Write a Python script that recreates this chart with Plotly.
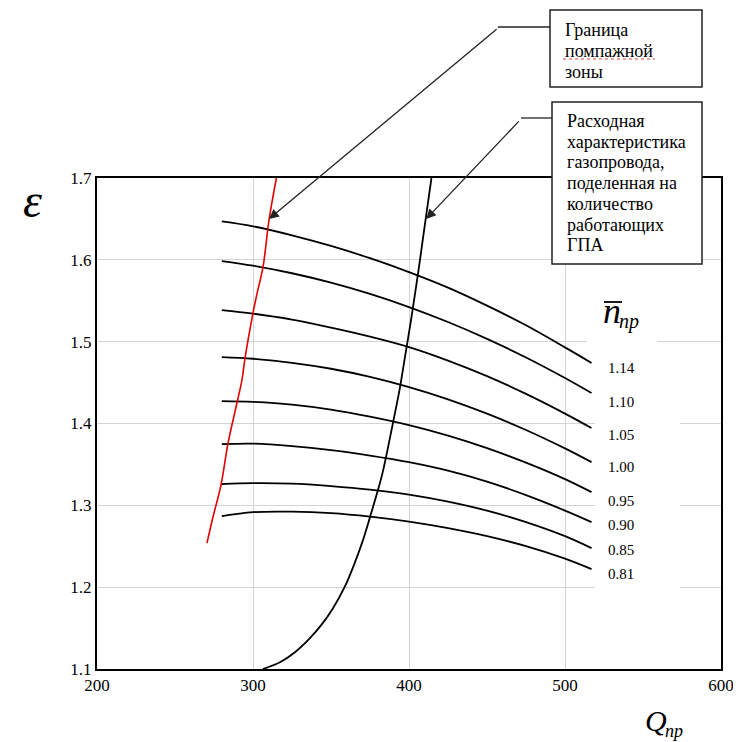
import plotly.graph_objects as go

# ---------------- data ----------------
Q = [280, 300, 325, 350, 375, 400, 425, 450, 475, 500, 517]
eps_114 = [1.647, 1.641, 1.630, 1.617, 1.602, 1.585, 1.566, 1.544, 1.520, 1.493, 1.474]
eps_110 = [1.5985, 1.5928, 1.5836, 1.5721, 1.5583, 1.5423, 1.5240, 1.5034, 1.4807, 1.4556, 1.4372]
eps_105 = [1.5386, 1.5343, 1.5270, 1.5172, 1.5062, 1.4934, 1.4769, 1.4579, 1.4362, 1.4121, 1.3944]
eps_100 = [1.4812, 1.4791, 1.4742, 1.4669, 1.4570, 1.4445, 1.4296, 1.4121, 1.3921, 1.3696, 1.3528]
eps_095 = [1.4274, 1.4264, 1.4231, 1.4170, 1.4084, 1.3980, 1.3852, 1.3699, 1.3522, 1.3320, 1.3161]
eps_090 = [1.3748, 1.3754, 1.3724, 1.3675, 1.3608, 1.3528, 1.3424, 1.3290, 1.3125, 1.2936, 1.2795]
eps_085 = [1.3259, 1.3271, 1.3265, 1.3235, 1.3192, 1.3131, 1.3045, 1.2935, 1.2795, 1.2623, 1.2477]
eps_081 = [1.2868, 1.2917, 1.2923, 1.2905, 1.2862, 1.2801, 1.2721, 1.2623, 1.2501, 1.2348, 1.2220]

speed_labels = ["1.14", "1.10", "1.05", "1.00", "0.95", "0.90", "0.85", "0.81"]
speed_label_eps = [1.4677, 1.4262, 1.3858, 1.3467, 1.3051, 1.2758, 1.2452, 1.2159]

surge_Q = [270.5, 274.4, 279.5, 284.0, 289.7, 292.9, 294.9, 300.0, 302.6, 306.4, 310.3, 315.0]
surge_eps = [1.254, 1.286, 1.325, 1.376, 1.425, 1.453, 1.480, 1.535, 1.559, 1.591, 1.649, 1.700]

pipe_Q = [306.4, 317.3, 326.9, 336.5, 344.2, 351.3, 359.0, 365.4, 370.5, 375.0, 380.1,
          383.0, 386.2, 389.7, 393.9, 397.1, 401.3, 406.1, 410.6, 414.4]
pipe_eps = [1.1000, 1.1083, 1.1205, 1.1377, 1.1548, 1.1743, 1.2012, 1.2306, 1.2575, 1.2856, 1.3186,
            1.3394, 1.3675, 1.4005, 1.4408, 1.4775, 1.5264, 1.5875, 1.6487, 1.7000]

x_ticks = [200, 300, 400, 500, 600]
y_ticks = [1.1, 1.2, 1.3, 1.4, 1.5, 1.6, 1.7]

box1_lines = ["Граница", "помпажной", "зоны"]
box2_lines = ["Расходная", "характеристика", "газопровода,", "поделенная на",
              "количество", "работающих", "ГПА"]

# ---------------- figure ----------------
OFF = 8                       # default body margin of the html page
W, H = 741 - OFF, 742 - OFF   # figure size
PL, PT, PR, PB = 97, 178, 721, 669   # plot area in page pixels
ML, MT = PL - OFF, PT - OFF
MR, MB = W - (PR - OFF), H - (PB - OFF)
PW, PH = PR - PL, PB - PT
SERIF = "Liberation Serif, Times New Roman, serif"


def fx(px):
    return (px - PL) / PW


def fy(py):
    return (PB - py) / PH


fig = go.Figure()
for eps in [eps_114, eps_110, eps_105, eps_100, eps_095, eps_090, eps_085, eps_081]:
    fig.add_trace(go.Scatter(x=Q, y=eps, mode="lines", line=dict(color="black", width=1.8, shape="spline"),
                             showlegend=False, hoverinfo="skip"))
fig.add_trace(go.Scatter(x=surge_Q, y=surge_eps, mode="lines",
                         line=dict(color="#e00000", width=1.6, shape="spline"),
                         showlegend=False, hoverinfo="skip"))
fig.add_trace(go.Scatter(x=pipe_Q, y=pipe_eps, mode="lines",
                         line=dict(color="black", width=1.8, shape="spline"),
                         showlegend=False, hoverinfo="skip"))

shapes = []
# white areas behind the right-hand labels
shapes.append(dict(type="rect", xref="paper", yref="paper", x0=fx(587), x1=fx(657), y0=fy(346), y1=fy(290),
                   fillcolor="white", line=dict(width=0), layer="above"))
shapes.append(dict(type="rect", xref="paper", yref="paper", x0=fx(595), x1=fx(680), y0=fy(592), y1=fy(355),
                   fillcolor="white", line=dict(width=0), layer="above"))
# callout boxes
shapes.append(dict(type="rect", xref="paper", yref="paper", x0=fx(550), x1=fx(702), y0=fy(87), y1=fy(10),
                   fillcolor="white", line=dict(color="#222", width=1.5), layer="above"))
shapes.append(dict(type="rect", xref="paper", yref="paper", x0=fx(552), x1=fx(702), y0=fy(264), y1=fy(102),
                   fillcolor="white", line=dict(color="#222", width=1.5), layer="above"))
# leader horizontal parts
shapes.append(dict(type="line", xref="paper", yref="paper", x0=fx(498), x1=fx(550), y0=fy(27), y1=fy(27),
                   line=dict(color="#222", width=1.3), layer="above"))
shapes.append(dict(type="line", xref="paper", yref="paper", x0=fx(521), x1=fx(552), y0=fy(118), y1=fy(118),
                   line=dict(color="#222", width=1.3), layer="above"))
# spell-check underline
shapes.append(dict(type="line", xref="paper", yref="paper", x0=fx(563), x1=fx(655), y0=fy(59), y1=fy(59),
                   line=dict(color="#e04040", width=1, dash="dot"), layer="above"))
# overline of n
shapes.append(dict(type="line", xref="paper", yref="paper", x0=fx(604), x1=fx(622), y0=fy(302), y1=fy(302),
                   line=dict(color="black", width=1.8), layer="above"))

ann = []
# arrows
ann.append(dict(x=310.3, y=1.650, xref="x", yref="y", ax=229, ay=-191, text="", showarrow=True,
                arrowhead=2, arrowsize=1.5, arrowwidth=1.3, arrowcolor="#222"))
ann.append(dict(x=411.0, y=1.650, xref="x", yref="y", ax=94, ay=-99, text="", showarrow=True,
                arrowhead=2, arrowsize=1.5, arrowwidth=1.3, arrowcolor="#222"))
# box texts
for i, t in enumerate(box1_lines):
    ann.append(dict(x=fx(563), y=fy(30 + 21 * i), xref="paper", yref="paper", text=t, showarrow=False,
                    xanchor="left", yanchor="middle", font=dict(family=SERIF, size=18, color="black")))
for i, t in enumerate(box2_lines):
    ann.append(dict(x=fx(565), y=fy(121 + 20.7 * i), xref="paper", yref="paper", text=t, showarrow=False,
                    xanchor="left", yanchor="middle", font=dict(family=SERIF, size=18, color="black")))
# speed labels
for t, e in zip(speed_labels, speed_label_eps):
    ann.append(dict(x=fx(621), y=e, xref="paper", yref="y", text=t, showarrow=False,
                    xanchor="center", yanchor="middle", font=dict(family=SERIF, size=15, color="black")))
# n_пр label
ann.append(dict(x=fx(612), y=fy(311), xref="paper", yref="paper", text="<i>n</i>", showarrow=False,
                xanchor="center", yanchor="middle", font=dict(family=SERIF, size=36, color="black")))
ann.append(dict(x=fx(629), y=fy(321), xref="paper", yref="paper", text="<i>пр</i>", showarrow=False,
                xanchor="center", yanchor="middle", font=dict(family=SERIF, size=20, color="black")))
# axis titles
ann.append(dict(x=fx(32), y=fy(200), xref="paper", yref="paper", text="<i>ε</i>", showarrow=False,
                xanchor="center", yanchor="middle", font=dict(family=SERIF, size=48, color="black")))
ann.append(dict(x=fx(656), y=fy(720), xref="paper", yref="paper", text="<i>Q</i>", showarrow=False,
                xanchor="center", yanchor="middle", font=dict(family=SERIF, size=30, color="black")))
ann.append(dict(x=fx(674), y=fy(731), xref="paper", yref="paper", text="<i>пр</i>", showarrow=False,
                xanchor="center", yanchor="middle", font=dict(family=SERIF, size=18, color="black")))

fig.update_layout(
    width=W, height=H,
    margin=dict(l=ML, r=MR, t=MT, b=MB, pad=0, autoexpand=False),
    paper_bgcolor="white", plot_bgcolor="white",
    shapes=shapes, annotations=ann,
    font=dict(family=SERIF, size=17, color="black"),
)
fig.update_xaxes(range=[200, 600], tickvals=x_ticks, ticktext=[str(v) for v in x_ticks],
                 showgrid=True, gridcolor="#d4d4d4", gridwidth=1, zeroline=False,
                 showline=True, linecolor="black", linewidth=2, mirror=True, ticks="",
                 tickfont=dict(family=SERIF, size=17, color="black"))
fig.update_yaxes(range=[1.1, 1.7], tickvals=y_ticks, ticktext=[f"{v:.1f}" for v in y_ticks],
                 showgrid=True, gridcolor="#d4d4d4", gridwidth=1, zeroline=False,
                 showline=True, linecolor="black", linewidth=2, mirror=True, ticks="",
                 tickfont=dict(family=SERIF, size=17, color="black"))

fig.write_html("out.html")
